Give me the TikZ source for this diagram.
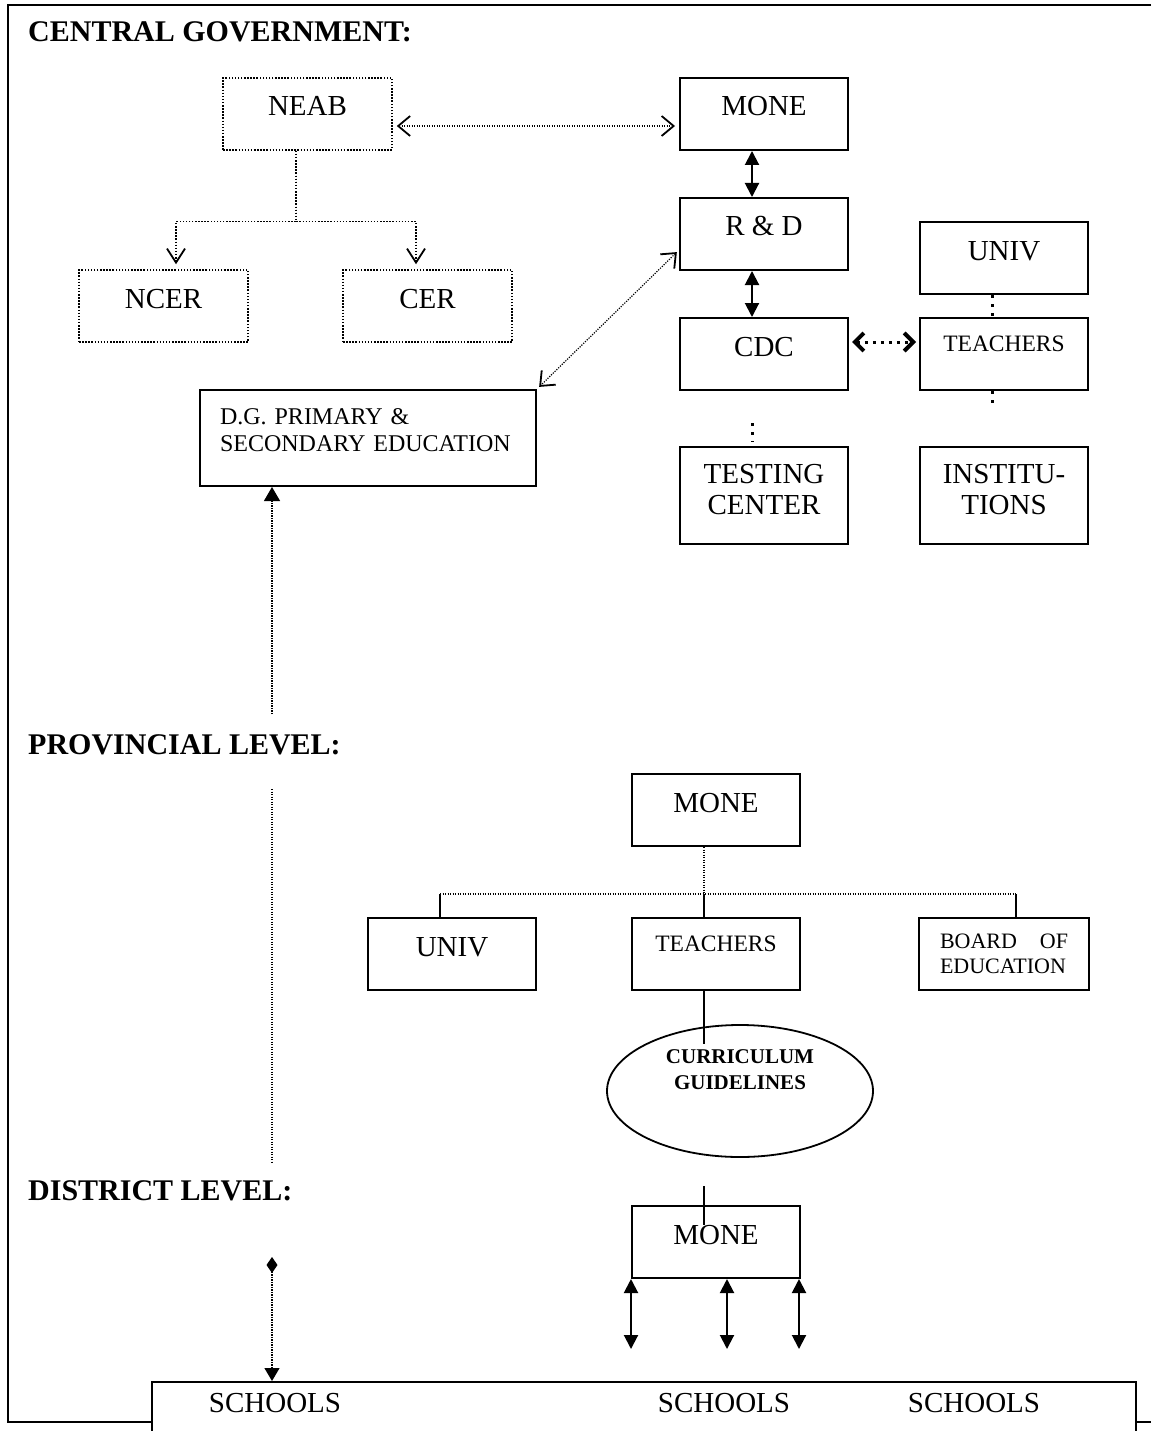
\documentclass[tikz,border=0pt]{standalone}
\usepackage{fontspec}
\setmainfont{Liberation Serif}
\usetikzlibrary{arrows.meta, shapes.geometric}

\tikzset{
  orgbox/.style={draw, line width=2pt, minimum width=168pt, minimum height=72pt, inner sep=0pt,
    font=\fontsize{29}{31}\selectfont, text height=20pt, text depth=16pt},
  dotbox/.style={orgbox, line width=1.5pt, dash pattern=on 1.5pt off 1.6pt, minimum width=169pt},
  smallbox/.style={orgbox, font=\fontsize{23.5}{25}\selectfont, text height=16pt, text depth=22pt},
  twobox/.style={orgbox, align=center, minimum height=97pt, text height=51pt, text depth=14pt},
  dgbox/.style={draw, line width=2pt, minimum height=96pt, inner xsep=20pt, inner ysep=0pt,
    text width=296pt, align=left, font=\fontsize{24}{27}\selectfont, text height=16pt, text depth=44pt},
  boardbox/.style={draw, line width=2pt, minimum height=72pt, inner xsep=21pt, inner ysep=0pt,
    text width=128pt, align=left, font=\fontsize{22}{25}\selectfont, text height=15pt, text depth=25.4pt},
  guideoval/.style={ellipse, draw, line width=1.8pt, minimum width=266pt, minimum height=132pt,
    inner sep=0pt, align=center, font=\fontsize{21}{26}\selectfont\bfseries, text height=40pt, text depth=44pt},
  lvlhead/.style={anchor=base west, inner sep=0pt, font=\fontsize{30}{32}\selectfont\bfseries},
  schooltext/.style={inner sep=0pt, font=\fontsize{29}{31}\selectfont},
  dotline/.style={line width=1.5pt, dash pattern=on 1.5pt off 1.6pt},
  thindot/.style={line width=1.2pt, dash pattern=on 1.2pt off 1.3pt},
  fatdot/.style={line width=3pt, dash pattern=on 3pt off 6pt},
  bigdot/.style={line width=3pt, dash pattern=on 3pt off 5pt},
  solidarr/.style={line width=2pt, {Triangle[length=14pt,width=14pt]}-{Triangle[length=14pt,width=14pt]}},
  barbs/.style={thindot, {Straight Barb[length=12pt,width=20pt,line width=1.8pt]}-{Straight Barb[length=12pt,width=20pt,line width=1.8pt]}},
}

\begin{document}
\begin{tikzpicture}[x=1pt, y=-1pt]
    \clip (0,0) rectangle (1151,1431);
    \draw[line width=2.2pt] (1151,5) -- (8,5) -- (8,1422) -- (1151,1422);

    \node[lvlhead] (hcentral) at (28,42) {CENTRAL GOVERNMENT:};
    \node[lvlhead] (hprov) at (28,754) {PROVINCIAL LEVEL:};
    \node[lvlhead] (hdist) at (28,1200) {DISTRICT LEVEL:};

    \node[dotbox] (neab) at (307.5,114) {NEAB};
    \node[orgbox] (mone) at (764,114) {MONE};
    \node[dotbox] (ncer) at (163.5,306) {NCER};
    \node[dotbox] (cer) at (427.5,306) {CER};
    \node[orgbox] (rnd) at (764,234) {R \& D};
    \node[orgbox] (cdc) at (764,354) {CDC};
    \node[orgbox] (univ) at (1004,258) {UNIV};
    \node[smallbox] (teach) at (1004,354) {TEACHERS};
    \node[twobox] (test) at (764,495.5) {TESTING\\CENTER};
    \node[twobox] (inst) at (1004,495.5) {INSTITU-\\TIONS};
    \node[dgbox] (dg) at (368,438) {D.G. PRIMARY \&\\SECONDARY EDUCATION};

    \draw[barbs, shorten <=4pt, shorten >=4pt] ([yshift=-12pt]neab.east) -- ([yshift=-12pt]mone.west);
    \draw[dotline, -{Straight Barb[length=14pt,width=18pt,line width=1.8pt]}] ([xshift=-11.5pt]neab.south) -- ++(0,71) -| ([xshift=12.5pt,yshift=5pt]ncer.north);
    \draw[dotline, -{Straight Barb[length=14pt,width=18pt,line width=1.8pt]}] ([xshift=-11.5pt]neab.south) -- ++(0,71) -| ([xshift=-11.5pt,yshift=5pt]cer.north);
    \draw[solidarr] ([xshift=-12pt]mone.south) -- ([xshift=-12pt]rnd.north);
    \draw[solidarr] ([xshift=-12pt]rnd.south) -- ([xshift=-12pt]cdc.north);
    \draw[barbs, shorten <=3pt, shorten >=3pt] ([yshift=-16pt]rnd.west) -- (dg.north east);
    \draw[bigdot, {Straight Barb[length=9pt,width=18pt,line width=4pt]}-{Straight Barb[length=9pt,width=18pt,line width=4pt]}, shorten <=3pt, shorten >=3pt] ([yshift=12pt]cdc.east) -- ([yshift=12pt]teach.west);
    \draw[fatdot] ([xshift=-12pt]univ.south) -- ([xshift=-12pt]teach.north);
    \draw[fatdot] ([xshift=-12pt]teach.south) -- ++(0,17);
    \coordinate (tcdots) at (752,423);
    \draw[fatdot, shorten >=4pt] (tcdots) -- (tcdots |- test.north);

    \coordinate (dgtail) at (272,714);
    \draw[thindot, -{Triangle[length=14pt,width=16pt]}] (dgtail) -- (dgtail |- dg.south);
    \coordinate (pvtop) at (272,789);
    \coordinate (pvbot) at (272,1162);
    \draw[thindot] (pvtop) -- (pvbot);

    \node[orgbox] (mone2) at (716,810) {MONE};
    \node[orgbox] (univ2) at (452,954) {UNIV};
    \node[smallbox] (teach2) at (716,954) {TEACHERS};
    \node[boardbox] (board) at (1004,954) {BOARD\hfill OF\\EDUCATION};
    \node[guideoval] (guide) at (740,1091) {CURRICULUM\\GUIDELINES};

    \coordinate (hub) at (704,894);
    \draw[thindot] ([xshift=-12pt]mone2.south) -- (hub);
    \draw[thindot] ([xshift=-12pt]univ2.north |- hub) -- ([xshift=12pt]board.north |- hub);
    \draw[line width=2pt] ([xshift=-12pt]univ2.north) -- ([xshift=-12pt]univ2.north |- hub);
    \draw[line width=2pt] ([xshift=-12pt]teach2.north) -- (hub);
    \draw[line width=2pt] ([xshift=12pt]board.north) -- ([xshift=12pt]board.north |- hub);
    \draw[line width=2pt] ([xshift=-12pt]teach2.south) -- ++(0,53);

    \node[orgbox] (mone3) at (716,1242) {MONE};
    \node[draw, fill=white, line width=2pt, minimum width=984pt, minimum height=80pt] (schools) at (644,1422) {};
    \node[schooltext] (sch1) at (275,1403) {SCHOOLS};
    \node[schooltext] (sch2) at (724,1403) {SCHOOLS};
    \node[schooltext] (sch3) at (974,1403) {SCHOOLS};

    \coordinate (dlink) at (704,1186);
    \draw[line width=2pt] (dlink) -- ++(0,39);
    \foreach \dx in {0,96,168}
        \draw[solidarr] ([xshift=\dx pt]mone3.south west) -- ++(0,70);

    \coordinate (dsrc) at (272,1257);
    \draw[thindot, {Diamond[length=16pt,width=11pt]}-{Triangle[length=13pt,width=15pt]}] (dsrc) -- (dsrc |- schools.north);
\end{tikzpicture}
\end{document}
